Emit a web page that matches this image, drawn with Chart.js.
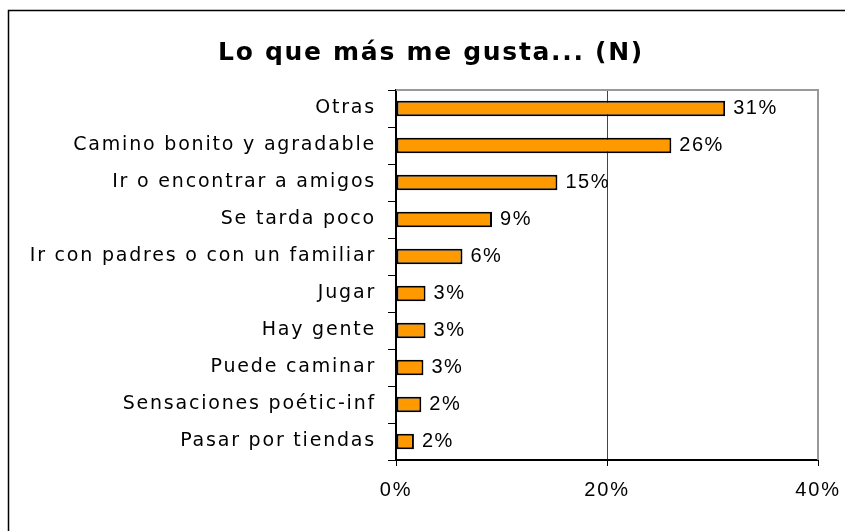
<!DOCTYPE html>
<html lang="es">
<head>
    <meta charset="UTF-8">
    <title>Lo que más me gusta... (N)</title>
    <script src="https://cdn.jsdelivr.net/npm/chart.js"></script>
    <style>
        body { margin: 0; background: #fff; }
        #wrap { width: 845px; height: 531px; }
    </style>
</head>
<body>
    <div id="wrap"><canvas id="chart" width="845" height="531"></canvas></div>
    <script>
        const categories = ['Otras', 'Camino bonito y agradable', 'Ir o encontrar a amigos', 'Se tarda poco',
            'Ir con padres o con un familiar', 'Jugar', 'Hay gente', 'Puede caminar', 'Sensaciones poétic-inf', 'Pasar por tiendas'];
        const values = [31.2, 26.1, 15.3, 9.1, 6.3, 2.8, 2.8, 2.6, 2.4, 1.7];
        const xTicks = [0, 20, 40];

        const labelFont = '"Comic Sans MS", "DejaVu Sans", sans-serif';
        const numFont = '"Liberation Sans", Arial, sans-serif';

        // outer frame, plot border and value labels.
        // letterSpacing widens the text like the original (title first, tick labels after the bars)
        const decor = {
            id: 'decor',
            afterLayout(chart) {
                // title in the original sits centred on the whole frame, not on the canvas
                if (chart.titleBlock) chart.titleBlock.left += 44;
            },
            beforeDraw(chart) {
                const c = chart.ctx;
                c.letterSpacing = '1.7px';
                c.save();
                c.strokeStyle = '#000';
                c.lineWidth = 1.5;
                c.strokeRect(8.5, 10.5, 900, 600);
                c.restore();
            },
            afterDatasetsDraw(chart) {
                const c = chart.ctx, a = chart.chartArea;
                c.save();
                c.strokeStyle = '#999';
                c.lineWidth = 2;
                c.beginPath();
                c.moveTo(a.left, a.top);
                c.lineTo(a.right, a.top);
                c.lineTo(a.right, a.bottom);
                c.stroke();
                c.fillStyle = '#000';
                c.font = '20px ' + numFont;
                c.letterSpacing = '1.5px';
                c.textBaseline = 'middle';
                chart.getDatasetMeta(0).data.forEach((bar, i) => {
                    c.fillText(Math.round(values[i]) + '%', bar.x + 8, bar.y);
                });
                c.restore();
                c.letterSpacing = '1.8px';
            }
        };

        new Chart(document.getElementById('chart'), {
            type: 'bar',
            data: {
                labels: categories,
                datasets: [{
                    data: values,
                    backgroundColor: '#FF9900',
                    borderColor: '#000',
                    borderWidth: 2,
                    borderSkipped: false,
                    barPercentage: 0.42,
                    categoryPercentage: 1
                }]
            },
            options: {
                indexAxis: 'y',
                responsive: false,
                animation: false,
                layout: { padding: { left: 0, right: 27, top: 0, bottom: 0 } },
                plugins: {
                    legend: { display: false },
                    tooltip: { enabled: false },
                    title: {
                        display: true,
                        text: 'Lo que más me gusta... (N)',
                        color: '#000',
                        font: { family: labelFont, size: 25, weight: 'bold', lineHeight: 1.2 },
                        padding: { top: 38, bottom: 22 }
                    }
                },
                scales: {
                    x: {
                        min: 0, max: 40,
                        afterBuildTicks: s => { s.ticks = xTicks.map(v => ({ value: v })); },
                        afterFit: s => { s.height = 71; s.paddingLeft = 0; s.paddingRight = 0; },
                        ticks: {
                            z: 2,
                            color: '#000',
                            padding: 12,
                            font: { family: numFont, size: 20 },
                            callback: v => v + '%'
                        },
                        grid: {
                            color: ctx => ctx.tick && ctx.tick.value === 20 ? '#444' : 'rgba(0,0,0,0)',
                            tickColor: '#000',
                            tickLength: 6
                        },
                        border: { color: '#000', width: 2 }
                    },
                    y: {
                        afterFit: s => { s.width = 396; },
                        ticks: {
                            z: 2,
                            color: '#000',
                            padding: 12,
                            font: { family: labelFont, size: 19 }
                        },
                        grid: { drawOnChartArea: false, color: '#000', tickLength: 8, offset: true },
                        border: { color: '#000', width: 2 }
                    }
                }
            },
            plugins: [decor]
        });
    </script>
</body>
</html>
